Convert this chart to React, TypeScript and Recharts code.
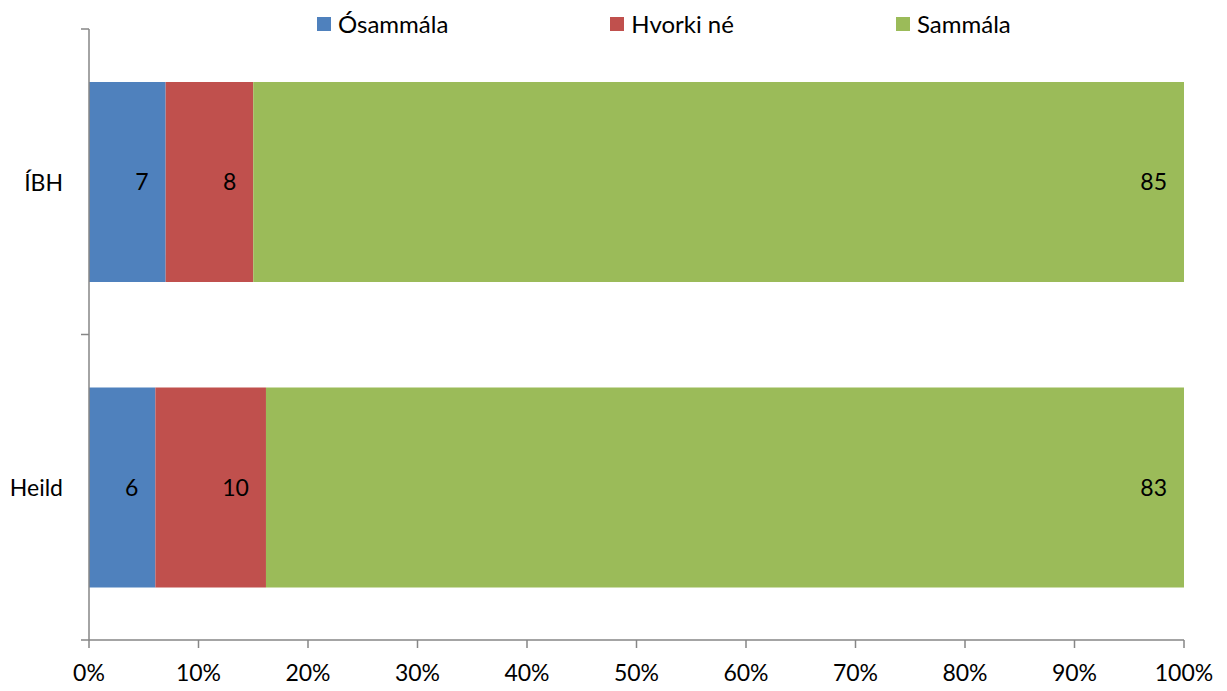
import React from 'react';
import { BarChart, Bar, XAxis, YAxis, Legend, LabelList } from 'recharts';

// Survey answers per group (percent of respondents)
const categories = ['ÍBH', 'Heild'];
const osammala = [7, 6];
const hvorkiNe = [8, 10];
const sammala = [85, 83];

const seriesNames = ['Ósammála', 'Hvorki né', 'Sammála'];
const seriesKeys = ['osammala', 'hvorkiNe', 'sammala'];
const seriesColors = ['#4F81BD', '#C0504D', '#9BBB59'];

const xTicks = [0, 0.1, 0.2, 0.3, 0.4, 0.5, 0.6, 0.7, 0.8, 0.9, 1];

const data = categories.map((name, i) => ({
  name,
  osammala: osammala[i],
  hvorkiNe: hvorkiNe[i],
  sammala: sammala[i],
}));

const WIDTH = 1227;
const HEIGHT = 691;
const PLOT_LEFT = 89;
const PLOT_RIGHT = 1184;
const PLOT_TOP = 29;
const PLOT_BOTTOM = 640;
const AXIS_COLOR = '#868686';
const FONT = 'Lato, "Open Sans", sans-serif';
const FONT_SIZE = 23;
const LEGEND_FONT_SIZE = 24;

const BAND = (PLOT_BOTTOM - PLOT_TOP) / categories.length;

// Category tick: label plus tick marks on the band boundaries
const CategoryTick = (props: any) => {
  const { y, payload, index } = props;
  const half = BAND / 2;
  const isLast = index === categories.length - 1;
  return (
    <g>
      <line x1={PLOT_LEFT - 8} x2={PLOT_LEFT} y1={y - half} y2={y - half} stroke={AXIS_COLOR} strokeWidth={1.5} />
      {isLast && (
        <line x1={PLOT_LEFT - 8} x2={PLOT_LEFT} y1={y + half} y2={y + half} stroke={AXIS_COLOR} strokeWidth={1.5} />
      )}
      <text
        x={PLOT_LEFT - 26}
        y={y}
        textAnchor="end"
        dominantBaseline="central"
        fill="#000"
        fontSize={FONT_SIZE}
        fontFamily={FONT}
      >
        {payload.value}
      </text>
    </g>
  );
};

const LegendContent = () => (
  <div style={{ display: 'flex', alignItems: 'center', fontFamily: FONT, fontSize: LEGEND_FONT_SIZE, color: '#000' }}>
    {seriesNames.map((n, i) => (
      <div key={n} style={{ display: 'flex', alignItems: 'center', marginRight: i < seriesNames.length - 1 ? 162 : 0 }}>
        <span style={{ width: 14, height: 14, background: seriesColors[i], display: 'inline-block', marginRight: 7 }} />
        <span style={{ lineHeight: '28px', whiteSpace: 'nowrap' }}>{n}</span>
      </div>
    ))}
  </div>
);

export default function App() {
  return (
    <div style={{ position: 'absolute', left: 0, top: 0, background: '#fff' }}>
      <BarChart
        width={WIDTH}
        height={HEIGHT}
        data={data}
        layout="vertical"
        stackOffset="expand"
        margin={{ top: PLOT_TOP, right: WIDTH - PLOT_RIGHT, bottom: 0, left: 0 }}
      >
        <XAxis
          type="number"
          domain={[0, 1]}
          ticks={xTicks}
          tickFormatter={(v: number) => `${Math.round(v * 100)}%`}
          height={HEIGHT - PLOT_BOTTOM}
          tickSize={8}
          tickMargin={17}
          axisLine={{ stroke: AXIS_COLOR, strokeWidth: 1.5 }}
          tickLine={{ stroke: AXIS_COLOR, strokeWidth: 1.5 }}
          tick={{ fill: '#000', fontSize: FONT_SIZE, fontFamily: FONT }}
          interval={0}
        />
        <YAxis
          type="category"
          dataKey="name"
          width={PLOT_LEFT}
          axisLine={{ stroke: AXIS_COLOR, strokeWidth: 1.5 }}
          tickLine={false}
          tick={<CategoryTick />}
          interval={0}
        />
        <Legend
          layout="horizontal"
          verticalAlign="middle"
          align="center"
          content={<LegendContent />}
          wrapperStyle={{ top: 10, left: 317, width: 'auto', height: 28 }}
        />
        {seriesKeys.map((k, i) => (
          <Bar
            key={k}
            dataKey={k}
            name={seriesNames[i]}
            stackId="a"
            fill={seriesColors[i]}
            barSize={200}
            isAnimationActive={false}
          >
            <LabelList
              dataKey={k}
              position="insideRight"
              offset={17}
              fill="#000"
              fontSize={FONT_SIZE}
              fontFamily={FONT}
            />
          </Bar>
        ))}
      </BarChart>
    </div>
  );
}
